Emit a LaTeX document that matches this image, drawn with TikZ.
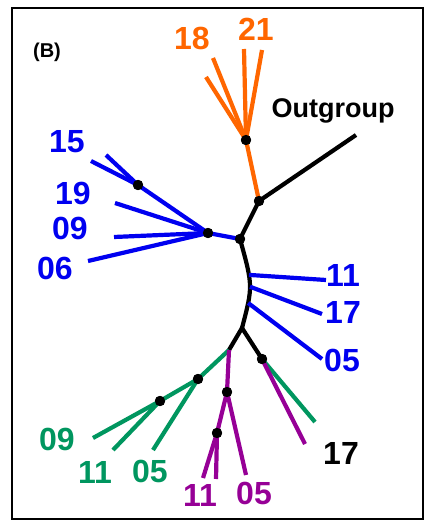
\documentclass[tikz,border=0pt]{standalone}
\usepackage{fontspec}
\setmainfont{Liberation Sans}
\usetikzlibrary{positioning}
\definecolor{clorange}{RGB}{255,102,0}
\definecolor{clblue}{RGB}{0,0,240}
\definecolor{clgreen}{RGB}{0,150,95}
\definecolor{clpurple}{RGB}{150,0,150}
\tikzset{branch/.style={line width=4pt}}

\begin{document}
\begin{tikzpicture}[x=1pt, y=-1pt, branch/.style={line width=4.2pt},
    dot/.style={circle, fill=black, inner sep=0pt, minimum size=10pt},
    tip/.style={font=\bfseries\fontsize{32}{32}\selectfont, inner sep=0pt}]
    \useasboundingbox (0,0) rectangle (425,521);
    \draw[line width=2pt] (12,8) rectangle (423,519);
    \node[font=\bfseries\fontsize{20}{20}\selectfont, inner sep=0pt] (panel) at (47,52) {(B)};
    % inner nodes
    \node[dot] (jtop) at (259,201) {};
    \node[dot] (jblue) at (240,239) {};
    \coordinate (jarc) at (242,328);
    \coordinate (jlow) at (229,350);
    \node[dot] (orng) at (246,140) {};
    \node[dot] (blA) at (208,233) {};
    \node[dot] (blB) at (138,185) {};
    \node[dot] (grA) at (198,379) {};
    \node[dot] (grB) at (160,401) {};
    \node[dot] (puA) at (227,392) {};
    \node[dot] (puB) at (217,433) {};
    \node[dot] (rgt) at (262,359) {};
    % leaf ends
    \coordinate (out) at (356,135);
    \coordinate (o18a) at (213,58);
    \coordinate (o18b) at (206,77);
    \coordinate (o21a) at (244,49);
    \coordinate (o21b) at (262,50);
    \coordinate (b15a) at (91,161);
    \coordinate (b15b) at (106,155);
    \coordinate (b19) at (115,203);
    \coordinate (b09) at (114,237);
    \coordinate (b06) at (88,261);
    \coordinate (b11) at (326,280);
    \coordinate (b17) at (322,314);
    \coordinate (b05) at (322,359);
    \coordinate (g09) at (93,438);
    \coordinate (g11) at (113,450);
    \coordinate (g05) at (153,450);
    \coordinate (p11a) at (203,478);
    \coordinate (p11b) at (216,479);
    \coordinate (p05) at (246,475);
    \coordinate (g17) at (315,422);
    \coordinate (p17) at (305,444);
    % black backbone
    \draw[branch, line cap=round] (jblue.center) .. controls (253,286) .. (jarc)
        coordinate[pos=0.35] (a11) coordinate[pos=0.52] (a17) coordinate[pos=0.75] (a05);
    \draw[branch, line cap=round] (jtop.center) -- (jblue.center);
    \draw[branch] (jtop.center) -- (out);
    \draw[branch, line cap=round] (jarc) -- (jlow);
    \draw[branch, line cap=round] (jarc) -- (rgt.center);
    % orange clade
    \draw[branch, clorange] (jtop.center) -- (orng.center);
    \foreach \leaf in {o18a, o18b, o21a, o21b}
        \draw[branch, clorange] (orng.center) -- (\leaf);
    % blue clades
    \draw[branch, clblue] (jblue.center) -- (blA.center);
    \draw[branch, clblue] (blA.center) -- (blB.center);
    \foreach \leaf in {b15a, b15b}
        \draw[branch, clblue] (blB.center) -- (\leaf);
    \foreach \leaf in {b19, b09, b06}
        \draw[branch, clblue] (blA.center) -- (\leaf);
    \draw[branch, clblue] (a11) -- (b11);
    \draw[branch, clblue] (a17) -- (b17);
    \draw[branch, clblue] (a05) -- (b05);
    % green and purple
    \draw[branch, clgreen] (jlow) -- (grA.center);
    \draw[branch, clgreen] (grA.center) -- (grB.center);
    \draw[branch, clgreen] (grA.center) -- (g05);
    \foreach \leaf in {g09, g11}
        \draw[branch, clgreen] (grB.center) -- (\leaf);
    \draw[branch, clpurple] (jlow) -- (puA.center);
    \draw[branch, clpurple] (puA.center) -- (puB.center);
    \draw[branch, clpurple] (puA.center) -- (p05);
    \foreach \leaf in {p11a, p11b}
        \draw[branch, clpurple] (puB.center) -- (\leaf);
    \draw[branch, clgreen] (rgt.center) -- (g17);
    \draw[branch, clpurple] (rgt.center) -- (p17);
    % dots on top
    \foreach \n in {jtop, jblue, orng, blA, blB, grA, grB, puA, puB, rgt}
        \fill (\n) circle (5.2pt);
    % labels
    \node[font=\bfseries\fontsize{27}{27}\selectfont, inner sep=0pt, anchor=base] (lout) at (333,118) {Outgroup};
    \node[tip, clorange] (l18) at (192,38) {18};
    \node[tip, clorange] (l21) at (256,29) {21};
    \node[tip, clblue] (l15) at (67,142) {15};
    \node[tip, clblue] (l19) at (73,193) {19};
    \node[tip, clblue] (l09) at (70,228) {09};
    \node[tip, clblue] (l06) at (55,268) {06};
    \node[tip, clblue] (l11) at (343,275) {11};
    \node[tip, clblue] (l17) at (343,312) {17};
    \node[tip, clblue] (l05) at (342,360) {05};
    \node[tip, clgreen] (m09) at (57,439) {09};
    \node[tip, clgreen] (m11) at (95,472) {11};
    \node[tip, clgreen] (m05) at (150,471) {05};
    \node[tip, clpurple] (n11) at (200,495) {11};
    \node[tip, clpurple] (n05) at (254,493) {05};
    \node[tip] (n17) at (341,453) {17};
\end{tikzpicture}
\end{document}
